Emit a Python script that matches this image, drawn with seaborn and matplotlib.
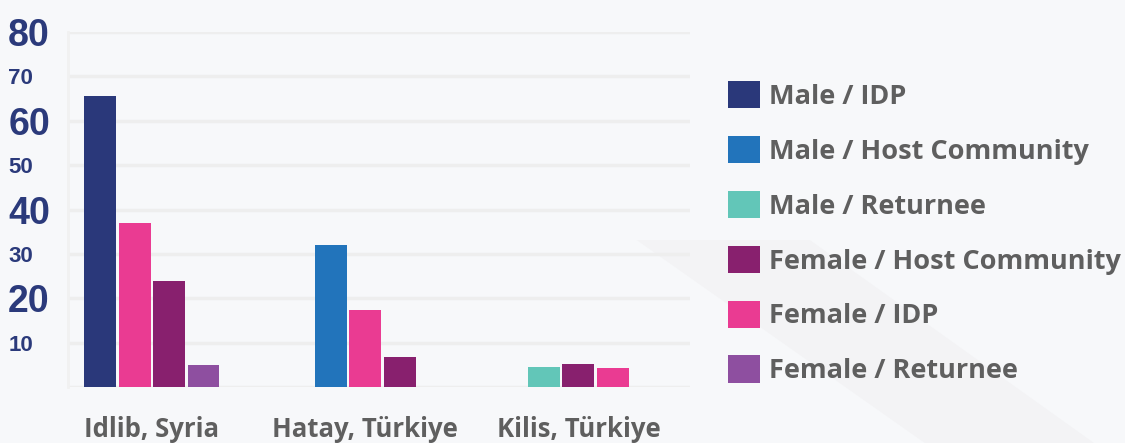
import numpy as np
import pandas as pd
import matplotlib.pyplot as plt
import seaborn as sns
from matplotlib.patches import Polygon

# categories and series
locations = ["Idlib, Syria", "Hatay, Türkiye", "Kilis, Türkiye"]
groups = ["Male / IDP", "Male / Host Community", "Male / Returnee",
          "Female / Host Community", "Female / IDP", "Female / Returnee"]
colors = ["#2a387a", "#2274bb", "#62c6b8", "#88206e", "#ea3b92", "#8e4fa0"]

# bars per location, in the order they are drawn
idlib_groups = ["Male / IDP", "Female / IDP", "Female / Host Community", "Female / Returnee"]
idlib_values = [65.5, 37.0, 24.0, 5.0]
hatay_groups = ["Male / Host Community", "Female / IDP", "Female / Host Community"]
hatay_values = [32.0, 17.3, 6.8]
kilis_groups = ["Male / Returnee", "Female / Host Community", "Female / IDP"]
kilis_values = [4.5, 5.2, 4.3]

y_ticks = [10, 20, 30, 40, 50, 60, 70, 80]

sns.set_style("white")
plt.rcParams['font.family'] = ['Open Sans', 'DejaVu Sans']

bg = "#f7f8fa"
text_grey = "#5f5f5f"
navy = "#2b3a7b"

# long table, bars packed side by side inside each location
group_gap = 6.2
rows = []
for i, (g_names, g_vals) in enumerate([(idlib_groups, idlib_values),
                                       (hatay_groups, hatay_values),
                                       (kilis_groups, kilis_values)]):
    n = len(g_names)
    for j in range(n):
        rows.append({"location": locations[i], "group": g_names[j], "value": g_vals[j],
                     "pos": i * group_gap + j - (n - 1) / 2})
df = pd.DataFrame(rows)

fig = plt.figure(figsize=(11.25, 4.43), dpi=100, facecolor=bg)

# faint diagonal band in the background
band = Polygon([(0.566, 0.458), (0.72, 0.458), (1.0, -0.05), (0.85, -0.05)],
               closed=True, transform=fig.transFigure, facecolor="#f3f3f5",
               edgecolor="none", zorder=-10)
fig.patches.append(band)

ax = fig.add_axes([0.0604, 0.126, 0.5529, 0.802])
ax.set_facecolor("none")

sns.barplot(data=df, x="pos", y="value", hue="group", hue_order=groups,
            palette=colors, saturation=1, native_scale=True, dodge=False,
            width=0.93, errorbar=None, linewidth=0, ax=ax)

ax.set_xlim(-2.44, 15.64)
ax.set_ylim(0, 80)

ax.set_yticks([0] + y_ticks)
ax.set_yticklabels([""] + [str(t) for t in y_ticks])
for lab, t in zip(ax.get_yticklabels(), [0] + y_ticks):
    lab.set_fontfamily("Liberation Sans")
    lab.set_fontweight("bold")
    lab.set_color(navy)
    lab.set_horizontalalignment("left")
    lab.set_fontsize(27 if t % 20 == 0 else 16)
ax.tick_params(axis="y", length=0, pad=43)

ax.set_xticks([i * group_gap for i in range(len(locations))])
ax.set_xticklabels(locations, fontsize=18.5, fontweight="bold", color=text_grey)
ax.tick_params(axis="x", length=0, pad=21)

ax.grid(axis="y", color="#eeeeee", linewidth=2.5)
ax.set_axisbelow(True)
for side in ["top", "right", "bottom"]:
    ax.spines[side].set_visible(False)
ax.spines["left"].set_color("#f1f1f1")
ax.spines["left"].set_linewidth(2)

ax.set_xlabel("")
ax.set_ylabel("")

sns.move_legend(ax, "upper left", bbox_to_anchor=(0.647, 0.817),
                bbox_transform=fig.transFigure, frameon=False, title=None,
                fontsize=19.5, handlelength=1.18, handleheight=1.18,
                handletextpad=0.33, labelspacing=0.96, borderpad=0,
                borderaxespad=0)
for txt in ax.get_legend().get_texts():
    txt.set_fontweight("bold")
    txt.set_color(text_grey)

fig.savefig("out.png", dpi=100, facecolor=bg)
